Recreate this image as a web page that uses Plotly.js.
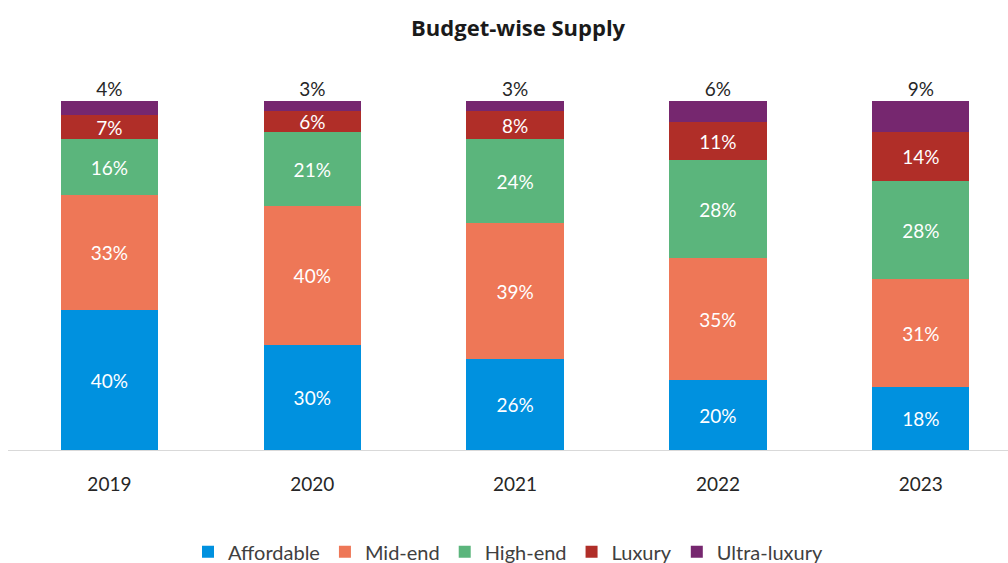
<!DOCTYPE html>
<html><head><meta charset="utf-8">
<script src="https://cdn.plot.ly/plotly-3.0.1.min.js"></script>
<style>html,body{margin:0;padding:0;background:#fff}#chart{width:1008px;height:563px}</style>
</head><body><div id="chart"></div>
<script>
const years = ['2019','2020','2021','2022','2023'];
const affordable = [40,30,26,20,18];
const midEnd = [33,40,39,35,31];
const highEnd = [16,21,24,28,28];
const luxury = [7,6,8,11,14];
const ultraLuxury = [4,3,3,6,9];

const FONT = 'Lato, "Open Sans", sans-serif';
const series = [
  {name:'Affordable', y:affordable, color:'#0091DF'},
  {name:'Mid-end', y:midEnd, color:'#EE7757'},
  {name:'High-end', y:highEnd, color:'#5BB57C'},
  {name:'Luxury', y:luxury, color:'#B02E28'},
  {name:'Ultra-luxury', y:ultraLuxury, color:'#76276F'}
];
const traces = series.map((s,i)=>({
  type:'bar', name:s.name, x:years, y:s.y,
  marker:{color:s.color, line:{width:0}},
  width:0.48,
  text: i<4 ? s.y.map(v=>v+'%') : undefined,
  textposition: i<4 ? 'inside' : 'none',
  insidetextanchor:'middle',
  constraintext:'none',
  textangle:0,
  textfont:{family:FONT, size:19, color:'#ffffff'},
  insidetextfont:{family:FONT, size:19, color:'#ffffff'},
  hoverinfo:'skip'
}));
const totals = years.map((_,k)=>series.reduce((a,s)=>a+s.y[k],0));
traces.push({
  type:'scatter', mode:'text', x:years, y:totals,
  text: ultraLuxury.map(v=>v+'%'), textposition:'top center',
  textfont:{family:FONT, size:19, color:'#262626'},
  showlegend:false, hoverinfo:'skip', cliponaxis:false
});
const layout = {
  width:1008, height:563,
  margin:{l:8, r:0, t:101, b:113, autoexpand:false},
  barmode:'stack',
  uniformtext:{mode:false},
  paper_bgcolor:'#fff', plot_bgcolor:'#fff',
  title:{text:'<b>Budget-wise Supply</b>', x:0.514, xanchor:'center', y:0.95, yanchor:'middle',
         font:{family:'"Open Sans", sans-serif', size:22, color:'#1a1a1a'}},
  xaxis:{type:'category', range:[-0.5,4.43], showline:true, linecolor:'#d9d9d9', linewidth:1,
         ticks:'outside', ticklen:17, tickcolor:'rgba(0,0,0,0)',
         tickfont:{family:FONT, size:19, color:'#262626'}, showgrid:false, zeroline:false},
  yaxis:{range:[0,100], visible:false, showgrid:false, zeroline:false},
  legend:{orientation:'h', x:0.5, xanchor:'center', yref:'container', y:0.02, yanchor:'middle',
          font:{family:FONT, size:20, color:'#404040'}, traceorder:'normal', itemwidth:30},
  showlegend:true
};
Plotly.newPlot('chart', traces, layout, {displayModeBar:false, staticPlot:true});
</script></body></html>
